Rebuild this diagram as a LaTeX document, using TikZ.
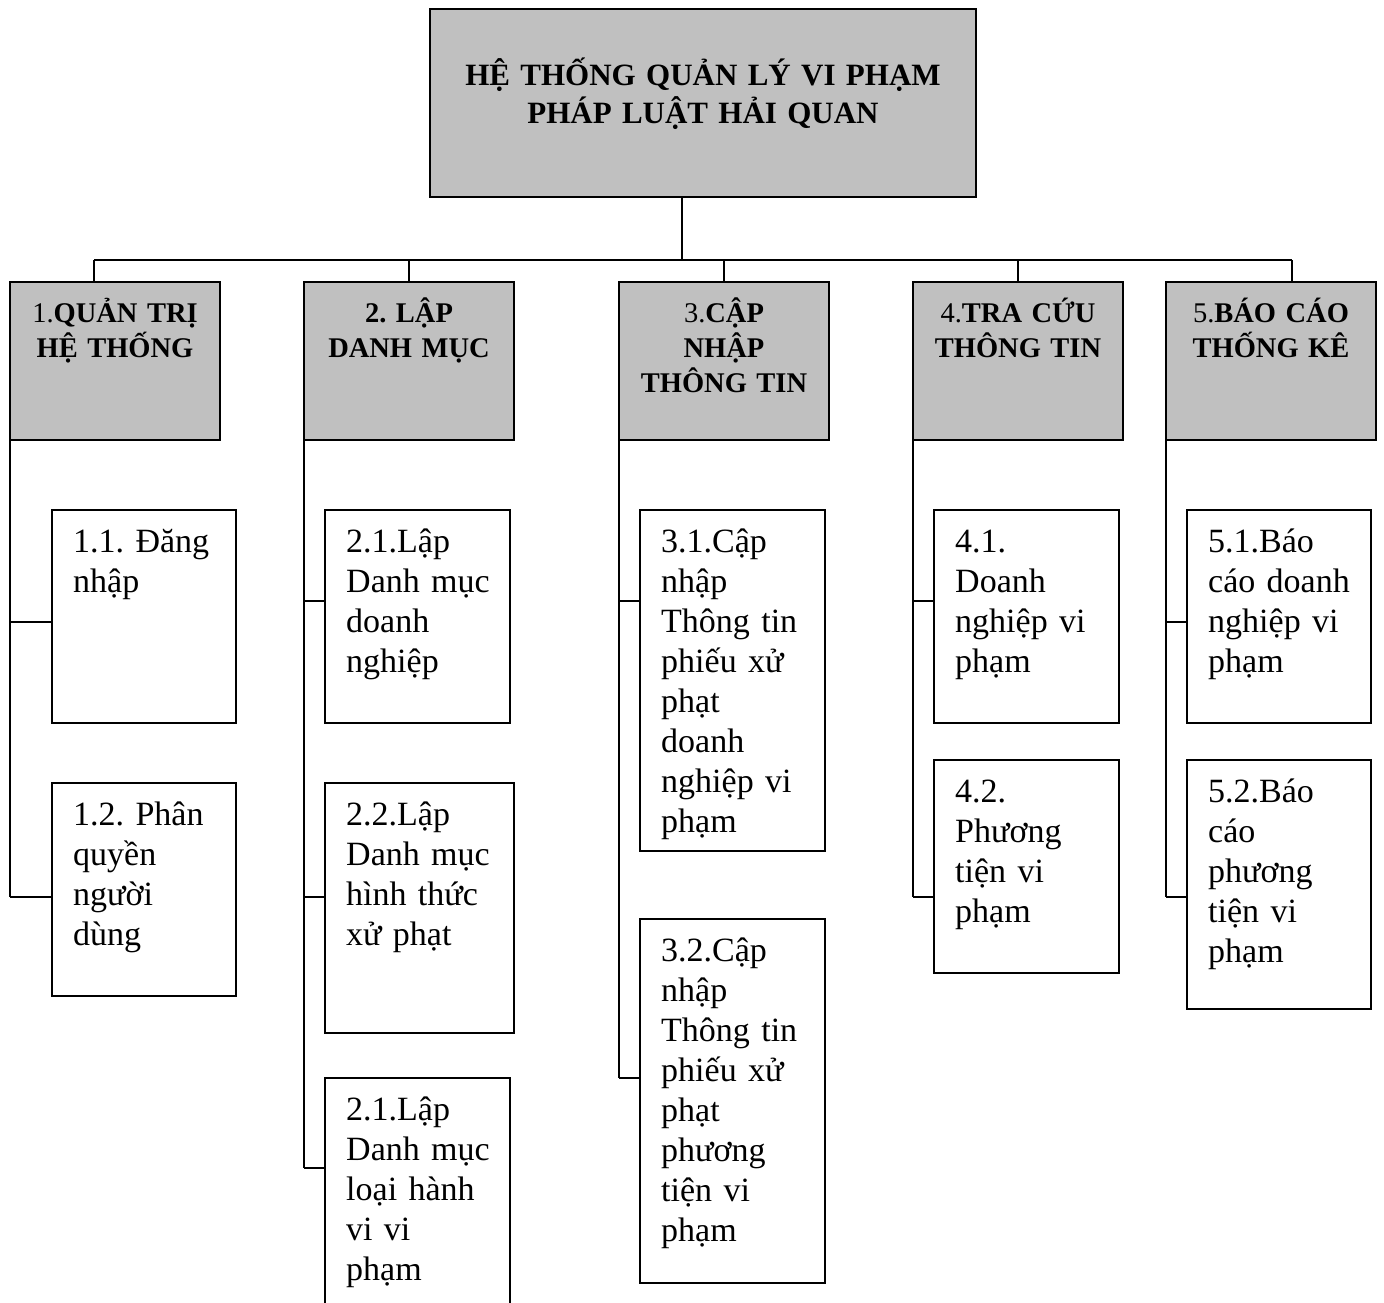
\documentclass[tikz,border=0pt]{standalone}
\usepackage{fontspec}
\setmainfont{Liberation Serif}
\definecolor{boxgray}{HTML}{C0C0C0}
\begin{document}
\begin{tikzpicture}[x=1pt,y=-1pt,
  box/.style={draw=black, line width=2pt, inner sep=0pt, outer sep=0pt, anchor=north west},
  graybox/.style={box, fill=boxgray},
  conn/.style={draw=black, line width=1.8pt},
  bodytext/.style={anchor=base west, align=left, inner sep=0pt, text width=175pt, font=\fontsize{34}{40}\selectfont\frenchspacing},
  headtext/.style={anchor=base, align=center, inner sep=0pt, text width=205pt, font=\bfseries\fontsize{28.5}{35}\selectfont\frenchspacing},
  roottext/.style={anchor=base, align=center, inner sep=0pt, text width=530pt, font=\bfseries\fontsize{31}{38}\selectfont\frenchspacing}
]
\useasboundingbox (0,0) rectangle (1384,1303);
\clip (0,0) rectangle (1384,1303);
\fill[white] (0,0) rectangle (1384,1303);

% root
\node[graybox, minimum width=546pt, minimum height=188pt] (root) at (430,9) {};
\node[roottext] (roott) at (703,86) {HỆ THỐNG QUẢN LÝ VI PHẠM\\PHÁP LUẬT HẢI QUAN};

% level 1
\node[graybox, minimum width=210pt, minimum height=158pt] (g1) at (10,282) {};
\node[graybox, minimum width=210pt, minimum height=158pt] (g2) at (304,282) {};
\node[graybox, minimum width=210pt, minimum height=158pt] (g3) at (619,282) {};
\node[graybox, minimum width=210pt, minimum height=158pt] (g4) at (913,282) {};
\node[graybox, minimum width=210pt, minimum height=158pt] (g5) at (1166,282) {};
\node[headtext] (g1t) at (115,322) {{\mdseries 1.}QUẢN TRỊ\\HỆ THỐNG};
\node[headtext] (g2t) at (409,322) {2. LẬP\\DANH MỤC};
\node[headtext] (g3t) at (724,322) {{\mdseries 3.}CẬP\\NHẬP\\THÔNG TIN};
\node[headtext] (g4t) at (1018,322) {{\mdseries 4.}TRA CỨU\\THÔNG TIN};
\node[headtext] (g5t) at (1271,322) {{\mdseries 5.}BÁO CÁO\\THỐNG KÊ};

% level 2 boxes
\node[box, minimum width=184pt, minimum height=213pt] (c11) at (52,510) {};
\node[box, minimum width=184pt, minimum height=213pt] (c12) at (52,783) {};
\node[box, minimum width=185pt, minimum height=213pt] (c21) at (325,510) {};
\node[box, minimum width=189pt, minimum height=250pt] (c22) at (325,783) {};
\node[box, minimum width=185pt, minimum height=260pt] (c23) at (325,1078) {};
\node[box, minimum width=185pt, minimum height=341pt] (c31) at (640,510) {};
\node[box, minimum width=185pt, minimum height=364pt] (c32) at (640,919) {};
\node[box, minimum width=185pt, minimum height=213pt] (c41) at (934,510) {};
\node[box, minimum width=185pt, minimum height=213pt] (c42) at (934,760) {};
\node[box, minimum width=184pt, minimum height=213pt] (c51) at (1187,510) {};
\node[box, minimum width=184pt, minimum height=249pt] (c52) at (1187,760) {};

\node[bodytext] (c11t) at (73,552.5) {1.1. Đăng\\nhập};
\node[bodytext] (c12t) at (73,825.5) {1.2. Phân\\quyền\\người\\dùng};
\node[bodytext] (c21t) at (346,552.5) {2.1.Lập\\Danh mục\\doanh\\nghiệp};
\node[bodytext] (c22t) at (346,825.5) {2.2.Lập\\Danh mục\\hình thức\\xử phạt};
\node[bodytext] (c23t) at (346,1120.5) {2.1.Lập\\Danh mục\\loại hành\\vi vi\\phạm};
\node[bodytext] (c31t) at (661,552.5) {3.1.Cập\\nhập\\Thông tin\\phiếu xử\\phạt\\doanh\\nghiệp vi\\phạm};
\node[bodytext] (c32t) at (661,961.5) {3.2.Cập\\nhập\\Thông tin\\phiếu xử\\phạt\\phương\\tiện vi\\phạm};
\node[bodytext] (c41t) at (955,552.5) {4.1.\\Doanh\\nghiệp vi\\phạm};
\node[bodytext] (c42t) at (955,802.5) {4.2.\\Phương\\tiện vi\\phạm};
\node[bodytext] (c51t) at (1208,552.5) {5.1.Báo\\cáo doanh\\nghiệp vi\\phạm};
\node[bodytext] (c52t) at (1208,802.5) {5.2.Báo\\cáo\\phương\\tiện vi\\phạm};

% connectors root -> level 1
\coordinate (bus) at (0,260);
\draw[conn] ([xshift=-21pt]root.south) -- ([xshift=-21pt]root.south |- bus);
\draw[conn] ([xshift=-21pt]g1.north |- bus) -- ([xshift=21pt]g5.north |- bus);
\draw[conn] ([xshift=-21pt]g1.north |- bus) -- ([xshift=-21pt]g1.north);
\draw[conn] (g2.north |- bus) -- (g2.north);
\draw[conn] (g3.north |- bus) -- (g3.north);
\draw[conn] (g4.north |- bus) -- (g4.north);
\draw[conn] ([xshift=21pt]g5.north |- bus) -- ([xshift=21pt]g5.north);

% column 1
\coordinate (k11) at (10,622);
\coordinate (k12) at (10,897);
\draw[conn] (g1.south west) -- (k12);
\draw[conn] (k11) -- (k11 -| c11.west);
\draw[conn] (k12) -- (k12 -| c12.west);
% column 2
\coordinate (k21) at (304,601);
\coordinate (k22) at (304,897);
\coordinate (k23) at (304,1168);
\draw[conn] (g2.south west) -- (k23);
\draw[conn] (k21) -- (k21 -| c21.west);
\draw[conn] (k22) -- (k22 -| c22.west);
\draw[conn] (k23) -- (k23 -| c23.west);
% column 3
\coordinate (k31) at (619,601);
\coordinate (k32) at (619,1078);
\draw[conn] (g3.south west) -- (k32);
\draw[conn] (k31) -- (k31 -| c31.west);
\draw[conn] (k32) -- (k32 -| c32.west);
% column 4
\coordinate (k41) at (913,601);
\coordinate (k42) at (913,897);
\draw[conn] (g4.south west) -- (k42);
\draw[conn] (k41) -- (k41 -| c41.west);
\draw[conn] (k42) -- (k42 -| c42.west);
% column 5
\coordinate (k51) at (1166,622);
\coordinate (k52) at (1166,897);
\draw[conn] (g5.south west) -- (k52);
\draw[conn] (k51) -- (k51 -| c51.west);
\draw[conn] (k52) -- (k52 -| c52.west);
\end{tikzpicture}
\end{document}
